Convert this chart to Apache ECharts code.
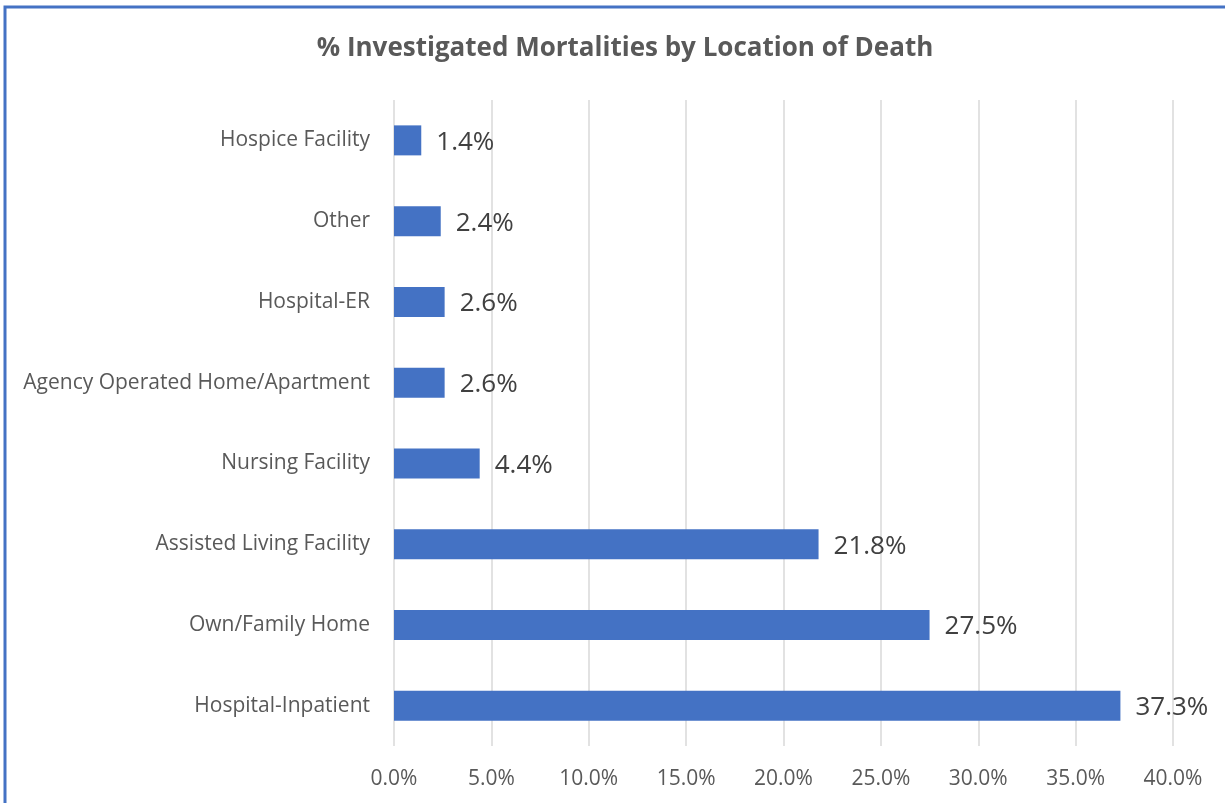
<!DOCTYPE html>
<html>
<head>
<meta charset="utf-8">
<script src="https://cdn.jsdelivr.net/npm/echarts@6/dist/echarts.min.js"></script>
<style>
html,body{margin:0;padding:0;background:#fff;}
#chart{width:1225px;height:803px;}
</style>
</head>
<body>
<div id="chart"></div>
<script>
const titleText = '% Investigated Mortalities by Location of Death';
const categories = ['Hospice Facility','Other','Hospital-ER','Agency Operated Home/Apartment','Nursing Facility','Assisted Living Facility','Own/Family Home','Hospital-Inpatient'];
const values = [1.4, 2.4, 2.6, 2.6, 4.4, 21.8, 27.5, 37.3];
const axisMin = 0, axisMax = 40, axisStep = 5;

const FONT = 'Open Sans';
const chart = echarts.init(document.getElementById('chart'), null, {renderer:'canvas'});
chart.setOption({
  backgroundColor:'#fff',
  animation:false,
  title:{
    text:titleText, left:620, textAlign:'center', top:31,
    textStyle:{fontFamily:FONT, fontWeight:'bold', fontSize:26, color:'#595959'}
  },
  graphic:[{
    type:'rect', shape:{x:5, y:7, width:1300, height:900},
    style:{fill:'none', stroke:'#4472C4', lineWidth:3}, silent:true
  }],
  grid:{left:394, right:52, top:100, bottom:57, containLabel:false},
  xAxis:{
    type:'value', min:axisMin, max:axisMax, interval:axisStep,
    axisLine:{show:false}, axisTick:{show:false},
    splitLine:{lineStyle:{color:'#d9d9d9', width:1.5}},
    axisLabel:{margin:23, fontFamily:FONT, fontSize:21, color:'#595959',
      formatter:v=>v.toFixed(1)+'%'}
  },
  yAxis:{
    type:'category', data:categories, inverse:true,
    axisLine:{show:false}, axisTick:{show:false},
    axisLabel:{margin:24, fontFamily:FONT, fontSize:21, color:'#595959', padding:[3,0,0,0]}
  },
  series:[{
    type:'bar', data:values, barWidth:30,
    itemStyle:{color:'#4472C4'},
    label:{show:true, position:'right', distance:15, offset:[0,2], fontFamily:FONT, fontSize:26, color:'#404040',
      formatter:p=>p.value.toFixed(1)+'%'}
  }]
});
</script>
</body>
</html>
